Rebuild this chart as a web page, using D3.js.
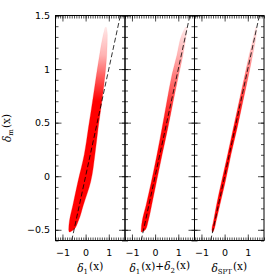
<!DOCTYPE html>
<html>
<head>
<meta charset="utf-8">
<script src="https://cdn.jsdelivr.net/npm/d3@7"></script>
<style>
  body { margin: 0; background: #fff; }
</style>
</head>
<body>
<svg id="chart"></svg>
<script>
// cloud outline: for each level of delta_m, left/right edge of the red band
let yLevels = [-0.52, -0.5, -0.42, -0.27, -0.05, 0.2, 0.45, 0.7, 0.95, 1.13, 1.32, 1.39];

let lo1 = [-0.71, -0.73, -0.7, -0.55, -0.33, -0.06, 0.12, 0.3, 0.47, 0.6, 0.76, 0.84];
let hi1 = [-0.67, -0.52, -0.32, -0.1, 0.22, 0.4, 0.54, 0.7, 0.84, 0.91, 0.94, 0.9];
let alpha1 = [1, 1, 1, 1, 1, 1, 1, 1, 0.6, 0.3, 0.15, 0.08];

let lo2 = [-0.6, -0.6, -0.56, -0.39, -0.16, 0.08, 0.3, 0.51, 0.73, 0.94, 1.15, 1.3];
let hi2 = [-0.56, -0.42, -0.3, -0.15, 0.06, 0.3, 0.55, 0.78, 1.02, 1.2, 1.35, 1.4];
let alpha2 = [1, 1, 1, 1, 1, 1, 0.95, 0.75, 0.5, 0.3, 0.15, 0.08];

let lo3 = [-0.53, -0.55, -0.48, -0.35, -0.13, 0.13, 0.38, 0.63, 0.88, 1.06, 1.27, 1.33];
let hi3 = [-0.5, -0.46, -0.37, -0.21, 0.03, 0.27, 0.54, 0.79, 1.04, 1.21, 1.37, 1.4];
let alpha3 = [1, 1, 1, 1, 1, 1, 1, 0.8, 0.55, 0.3, 0.15, 0.08];

// axis labels, as pieces: [text, style]  (i = italic, s = subscript)
let xLabels = [
  [["δ", "i"], ["1", "s"], ["(x)", ""]],
  [["δ", "i"], ["1", "s"], ["(x)+", ""], ["δ", "i"], ["2", "s"], ["(x)", ""]],
  [["δ", "i"], ["SPT", "s"], ["(x)", ""]]
];
let yLabel = [["δ", "i"], ["m", "s"], ["(x)", ""]];

let xDomain = [-1.3, 1.7];
let yDomain = [-0.6, 1.5];
let xMajor = [-1, 0, 1];
let yMajor = [-0.5, 0, 0.5, 1, 1.5];
let xMinor = d3.range(-13, 18).map(d => d / 10);
let yMinor = d3.range(-6, 16).map(d => d / 10);

let panels = [
  { lo: lo1, hi: hi1, alpha: alpha1 },
  { lo: lo2, hi: hi2, alpha: alpha2 },
  { lo: lo3, hi: hi3, alpha: alpha3 }
];

let width = 280, height = 280;
let marginLeft = 55.5, marginTop = 15.5;
let panelW = 69.5, panelH = 225;

let svg = d3.select("#chart").attr("width", width).attr("height", height);
let defs = svg.append("defs");

let x = d3.scaleLinear().domain(xDomain).range([0, panelW]);
let y = d3.scaleLinear().domain(yDomain).range([panelH, 0]);

let tickFont = "DejaVu Sans";
let labelFont = "DejaVu Serif";

defs.append("clipPath").attr("id", "panel-clip")
  .append("rect").attr("width", panelW).attr("height", panelH);

let writeLabel = function(text, parts, big, small) {
  parts.forEach(function(p) {
    let t = text.append("tspan").text(p[0]);
    if (p[1] == "i") t.attr("font-style", "italic");
    if (p[1] == "s") {
      t.attr("font-size", small).attr("dy", "0.3em");
      text.append("tspan").attr("dy", "-0.3em").attr("font-size", big).text("\u200a");
    }
  });
};

let band = d3.area()
  .y(d => y(d.y))
  .x0(d => x(d.lo))
  .x1(d => x(d.hi))
  .curve(d3.curveMonotoneY);

panels.forEach(function(p, i) {
  let g = svg.append("g").attr("transform", `translate(${marginLeft + i * panelW},${marginTop})`);

  // fading of the point cloud towards the sparse top
  let gy1 = y(yLevels[0]), gy2 = y(yLevels[yLevels.length - 1]);
  let grad = defs.append("linearGradient")
    .attr("id", "fade" + i)
    .attr("gradientUnits", "userSpaceOnUse")
    .attr("x1", 0).attr("x2", 0)
    .attr("y1", gy1).attr("y2", gy2);
  yLevels.forEach(function(lv, k) {
    grad.append("stop")
      .attr("offset", (y(lv) - gy1) / (gy2 - gy1))
      .attr("stop-color", "#ff0000")
      .attr("stop-opacity", p.alpha[k]);
  });

  let rows = yLevels.map((lv, k) => ({ y: lv, lo: p.lo[k], hi: p.hi[k] }));
  let plot = g.append("g").attr("clip-path", "url(#panel-clip)");

  plot.append("path")
    .attr("d", band(rows))
    .attr("fill", `url(#fade${i})`)
    .attr("stroke", `url(#fade${i})`)
    .attr("stroke-opacity", 0.3)
    .attr("stroke-width", 1);

  // y = x
  plot.append("line")
    .attr("x1", x(yDomain[0])).attr("y1", y(yDomain[0]))
    .attr("x2", x(yDomain[1])).attr("y2", y(yDomain[1]))
    .attr("stroke", "#000")
    .attr("stroke-width", 0.8)
    .attr("stroke-dasharray", "5,2.5");

  // inward ticks on all four sides
  let tickSets = [
    [d3.axisBottom(x), `translate(0,${panelH})`, xMinor, xMajor],
    [d3.axisTop(x), "translate(0,0)", xMinor, xMajor],
    [d3.axisLeft(y), "translate(0,0)", yMinor, yMajor],
    [d3.axisRight(y), `translate(${panelW},0)`, yMinor, yMajor]
  ];
  tickSets.forEach(function(t) {
    [[t[2], 3], [t[3], 6]].forEach(function(s) {
      let a = g.append("g").attr("transform", t[1])
        .call(t[0].tickValues(s[0]).tickSize(-s[1]).tickFormat(""));
      a.select(".domain").remove();
      a.selectAll("line").attr("stroke", "#000").attr("stroke-width", 0.7);
    });
  });

  g.append("rect")
    .attr("width", panelW).attr("height", panelH)
    .attr("fill", "none").attr("stroke", "#000").attr("stroke-width", 1);

  // tick labels
  let xl = g.append("g").attr("transform", `translate(0,${panelH})`)
    .call(d3.axisBottom(x).tickValues(xMajor).tickSize(0).tickPadding(9).tickFormat(d3.format("")));
  xl.select(".domain").remove();
  xl.attr("font-family", tickFont).attr("font-size", 9.5);
  xl.selectAll("text").attr("fill", "#000");

  if (i == 0) {
    let yl = g.append("g")
      .call(d3.axisLeft(y).tickValues(yMajor).tickSize(0).tickPadding(5.5).tickFormat(d3.format("")));
    yl.select(".domain").remove();
    yl.attr("font-family", tickFont).attr("font-size", 9.5);
    yl.selectAll("text").attr("fill", "#000");
  }

  let lab = g.append("text")
    .attr("x", panelW / 2).attr("y", 256)
    .attr("text-anchor", "middle")
    .attr("font-family", labelFont)
    .attr("font-size", 10.5);
  writeLabel(lab, xLabels[i], 10.5, 7);
});

let ylab = svg.append("text")
  .attr("transform", `translate(11,${marginTop + panelH / 2}) rotate(-90)`)
  .attr("text-anchor", "middle")
  .attr("font-family", labelFont)
  .attr("font-size", 10.5);
writeLabel(ylab, yLabel, 10.5, 7);
</script>
</body>
</html>
